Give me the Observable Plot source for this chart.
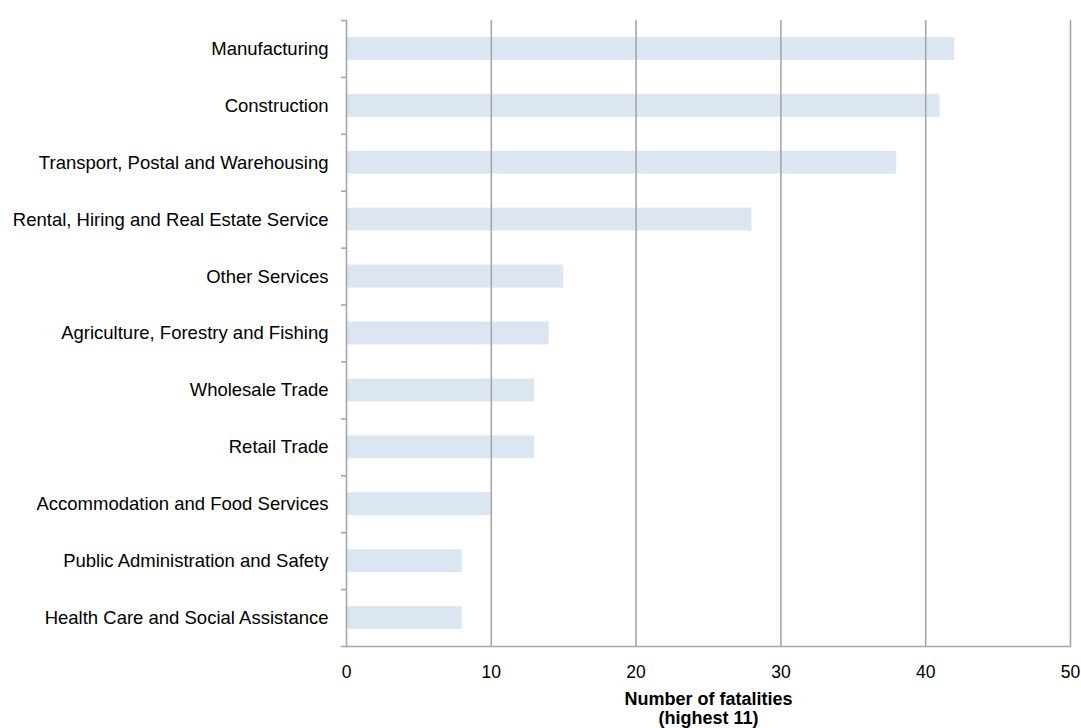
<!DOCTYPE html>
<html>
<head>
<meta charset="utf-8">
<script src="https://cdn.jsdelivr.net/npm/d3@7"></script>
<script src="https://cdn.jsdelivr.net/npm/@observablehq/plot@0.6"></script>
<style>
  html, body { margin: 0; padding: 0; background: #fff; }
</style>
</head>
<body>
<div id="chart"></div>
<script>
const categories = [
  "Manufacturing",
  "Construction",
  "Transport, Postal and Warehousing",
  "Rental, Hiring and Real Estate Service",
  "Other Services",
  "Agriculture, Forestry and Fishing",
  "Wholesale Trade",
  "Retail Trade",
  "Accommodation and Food Services",
  "Public Administration and Safety",
  "Health Care and Social Assistance"
];
const fatalities = [42, 41, 38, 28, 15, 14, 13, 13, 10, 8, 8];
const xTicks = [0, 10, 20, 30, 40, 50];
const axisTitle = "Number of fatalities\n(highest 11)";

const data = categories.map((c, i) => ({category: c, value: fatalities[i]}));

const W = 1081, H = 728, mT = 20, mB = 82, mL = 346, mR = 11;
const band = (H - mT - mB) / categories.length;
const axisColor = "#a6a6a6";

const chart = Plot.plot({
  width: W,
  height: H,
  marginTop: mT,
  marginBottom: mB,
  marginLeft: mL,
  marginRight: mR,
  style: {fontFamily: "'Liberation Sans', Arial, sans-serif", fontSize: "16px", color: "#000", background: "#fff"},
  x: {domain: [0, 50], ticks: xTicks},
  y: {domain: categories, padding: 0, round: false},
  marks: [
    Plot.barX(data, {x: "value", y: "category", fill: "#dce6f2", insetTop: 17, insetBottom: 17}),
    Plot.gridX(xTicks.slice(1), {stroke: axisColor, strokeOpacity: 1, strokeWidth: 1.6}),
    Plot.frame({anchor: "left", stroke: axisColor, strokeWidth: 1.6}),
    Plot.frame({anchor: "bottom", stroke: axisColor, strokeWidth: 1.6, insetLeft: -5}),
    Plot.axisY({tickSize: 5, tickFormat: () => "", label: null, dy: -band / 2, stroke: axisColor, strokeWidth: 1.6, strokeOpacity: 1}),
    Plot.axisY({tickSize: 0, tickPadding: 18, label: null, fontSize: 18.5, fill: "#000"}),
    Plot.axisX({ticks: xTicks, tickSize: 0, tickPadding: 19, label: null, fontSize: 17.5, fill: "#000"}),
    Plot.text([axisTitle], {text: d => d, frameAnchor: "bottom", lineAnchor: "top", dy: 45, fontWeight: "bold", fontSize: 18, lineHeight: 1.05, fill: "#000"})
  ]
});
document.getElementById("chart").appendChild(chart);
</script>
</body>
</html>
